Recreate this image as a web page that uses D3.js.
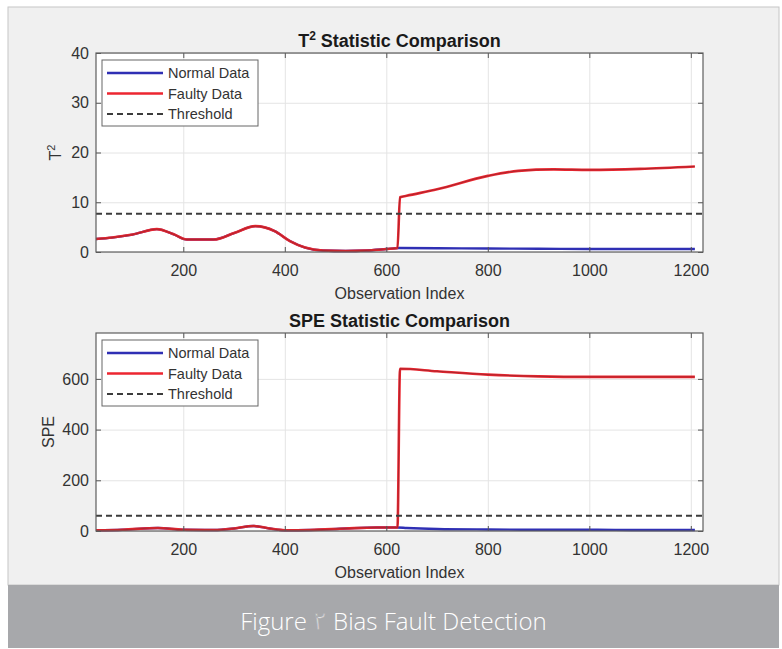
<!DOCTYPE html>
<html>
<head>
<meta charset="utf-8">
<script src="https://cdn.jsdelivr.net/npm/d3@7"></script>
<style>
  body { margin: 0; background: #fff; }
  svg { display: block; }
  text { font-family: "Liberation Sans", Arial, sans-serif; }
</style>
</head>
<body>
<svg id="fig" width="782" height="649"></svg>
<script>
// values (observation index, statistic)
const t2NormalIdx = [28, 60, 100, 148, 180, 207, 260, 300, 342, 380, 410, 440, 475, 520, 560, 600, 625, 700, 800, 900, 1000, 1100, 1208];
const t2Normal    = [2.6, 2.9, 3.5, 4.6, 3.6, 2.5, 2.5, 3.8, 5.2, 4.2, 2.2, 0.9, 0.3, 0.2, 0.3, 0.6, 0.8, 0.75, 0.7, 0.65, 0.6, 0.6, 0.6];
const t2FaultyIdx = [28, 60, 100, 148, 180, 207, 260, 300, 342, 380, 410, 440, 475, 520, 560, 600, 622, 627, 640, 700, 800, 860, 930, 1000, 1100, 1208];
const t2Faulty    = [2.6, 2.9, 3.5, 4.6, 3.6, 2.5, 2.5, 3.8, 5.2, 4.2, 2.2, 0.9, 0.3, 0.2, 0.3, 0.6, 0.8, 11.0, 11.3, 12.6, 15.3, 16.3, 16.6, 16.5, 16.7, 17.2];
const t2Threshold = 7.7;

const speNormalIdx = [28, 80, 150, 200, 260, 300, 338, 370, 400, 450, 520, 580, 622, 640, 700, 800, 900, 1000, 1100, 1208];
const speNormal    = [3, 5, 12, 5, 4, 10, 20, 10, 3, 4, 10, 14, 14, 12, 8, 6, 5, 5, 4, 4];
const speFaultyIdx = [28, 80, 150, 200, 260, 300, 338, 370, 400, 450, 520, 580, 622, 627, 700, 800, 900, 1000, 1100, 1208];
const speFaulty    = [3, 5, 12, 5, 4, 10, 20, 10, 3, 4, 10, 14, 14, 640, 630, 617, 610, 608, 608, 608];
const speThreshold = 60;

const xTicks   = [200, 400, 600, 800, 1000, 1200];
const t2Ticks  = [0, 10, 20, 30, 40];
const speTicks = [0, 200, 400, 600];
const legendLabels = ["Normal Data", "Faulty Data", "Threshold"];

const blue = "#2f2fb4", red = "#ec2630", dark = "#3c3c3c";
const bandColour = "#a7a8ab";
const fmt = d3.format("d");

const svg = d3.select("#fig");

// figure panel + caption band
svg.append("rect").attr("x", 8).attr("y", 7).attr("width", 771).attr("height", 578)
    .attr("fill", "#f0f0f0").attr("stroke", "#c6c6c6");
svg.append("rect").attr("x", 8).attr("y", 585).attr("width", 771).attr("height", 63)
    .attr("fill", bandColour);
const caption = svg.append("text")
    .attr("x", 393.5).attr("y", 630)
    .attr("text-anchor", "middle")
    .style("font-family", "'Open Sans', 'DejaVu Sans', sans-serif")
    .style("font-weight", 300)
    .style("font-size", "24px")
    .attr("fill", "#fff");
caption.append("tspan").text("Figure ");
// thin the fallback Arabic digit a little so it reads like the light caption face
caption.append("tspan")
    .style("font-family", "'Noto Sans Arabic', 'DejaVu Sans', sans-serif")
    .attr("stroke", bandColour)
    .attr("stroke-width", 0.6)
    .text("\u0662");
caption.append("tspan").text(" Bias Fault Detection");

function drawPanel(cfg) {
  const left = 96, right = 703;
  const w = right - left, h = cfg.bottom - cfg.top;
  const x = d3.scaleLinear().domain([28, 1224]).range([0, w]);
  const y = d3.scaleLinear().domain(cfg.yDomain).range([h, 0]);
  const g = svg.append("g").attr("transform", "translate(" + left + "," + cfg.top + ")");

  g.append("rect").attr("width", w).attr("height", h).attr("fill", "#fff");

  // grid
  g.append("g").attr("class", "grid")
      .call(d3.axisBottom(x).tickValues(xTicks).tickSize(h).tickFormat(""));
  g.append("g").attr("class", "grid")
      .call(d3.axisLeft(y).tickValues(cfg.yTicks).tickSize(-w).tickFormat(""));
  g.selectAll(".grid .domain").remove();
  g.selectAll(".grid line").attr("stroke", "#e4e4e4");

  // curves
  const line = d3.line()
      .x(d => x(d[0]))
      .y(d => y(d[1]))
      .curve(d3.curveMonotoneX);
  const normal = cfg.normalIdx.map((d, i) => [d, cfg.normal[i]]);
  const faulty = cfg.faultyIdx.map((d, i) => [d, cfg.faulty[i]]);

  g.append("path").attr("d", line(normal)).attr("fill", "none")
      .attr("stroke", blue).attr("stroke-width", 2.4);
  g.append("path").attr("d", line(faulty)).attr("fill", "none")
      .attr("stroke", red).attr("stroke-width", 2.6);
  g.append("path").attr("d", line(faulty)).attr("fill", "none")
      .attr("stroke", "#222").attr("stroke-width", 0.7).attr("opacity", 0.45);

  g.append("line")
      .attr("x1", 0).attr("x2", w)
      .attr("y1", y(cfg.threshold)).attr("y2", y(cfg.threshold))
      .attr("stroke", dark).attr("stroke-width", 2)
      .attr("stroke-dasharray", "6,4");

  // axes, ticks pointing inward on all four sides
  const xAxis = g.append("g").attr("transform", "translate(0," + h + ")")
      .call(d3.axisBottom(x).tickValues(xTicks).tickFormat(fmt)
        .tickSizeInner(-5).tickSizeOuter(0).tickPadding(13));
  const yAxis = g.append("g")
      .call(d3.axisLeft(y).tickValues(cfg.yTicks).tickFormat(fmt)
        .tickSizeInner(-5).tickSizeOuter(0).tickPadding(7));
  g.append("g")
      .call(d3.axisTop(x).tickValues(xTicks).tickSizeInner(-5).tickSizeOuter(0).tickFormat(""));
  g.append("g").attr("transform", "translate(" + w + ",0)")
      .call(d3.axisRight(y).tickValues(cfg.yTicks).tickSizeInner(-5).tickSizeOuter(0).tickFormat(""));
  g.selectAll(".domain").remove();
  g.selectAll(".tick line").filter(function() { return !this.parentNode.parentNode.classList.contains("grid"); })
      .attr("stroke", "#555");
  [xAxis, yAxis].forEach(a => a.selectAll("text")
      .style("font-size", "16px").attr("fill", "#333"));

  g.append("rect").attr("width", w).attr("height", h)
      .attr("fill", "none").attr("stroke", "#5e5e5e").attr("stroke-width", 1.2);

  // legend
  const lg = g.append("g").attr("transform", "translate(6,7)");
  lg.append("rect").attr("width", 156).attr("height", 66)
      .attr("fill", "#fff").attr("stroke", "#666");
  const items = lg.selectAll("g.item")
      .data(legendLabels)
      .enter()
      .append("g")
      .attr("class", "item")
      .attr("transform", (d, i) => "translate(0," + (13 + i * 20.5) + ")");
  items.append("line")
      .attr("x1", 5).attr("x2", 61)
      .attr("stroke", (d, i) => [blue, red, dark][i])
      .attr("stroke-width", (d, i) => i === 2 ? 2 : 2.6)
      .attr("stroke-dasharray", (d, i) => i === 2 ? "6,4" : null);
  items.append("text")
      .attr("x", 66).attr("y", 5)
      .style("font-size", "14.5px")
      .attr("fill", "#333")
      .text(d => d);

  // title and labels
  const title = g.append("text")
      .attr("x", w / 2).attr("y", -6)
      .attr("text-anchor", "middle")
      .style("font-size", "18px").style("font-weight", "bold")
      .attr("fill", "#1a1a1a");
  cfg.titleParts(title);

  g.append("text")
      .attr("x", w / 2).attr("y", h + 47)
      .attr("text-anchor", "middle")
      .style("font-size", "16px").attr("fill", "#333")
      .text("Observation Index");

  const yl = g.append("text")
      .attr("transform", "translate(" + cfg.yLabelX + "," + (h / 2) + ") rotate(-90)")
      .attr("text-anchor", "middle")
      .style("font-size", "16px").attr("fill", "#333");
  cfg.yLabelParts(yl);
}

drawPanel({
  top: 53, bottom: 252, yDomain: [0, 40], yTicks: t2Ticks,
  normalIdx: t2NormalIdx, normal: t2Normal,
  faultyIdx: t2FaultyIdx, faulty: t2Faulty,
  threshold: t2Threshold, yLabelX: -35,
  titleParts: t => {
    t.append("tspan").text("T");
    t.append("tspan").attr("dy", -7).style("font-size", "12px").text("2");
    t.append("tspan").attr("dy", 7).text(" Statistic Comparison");
  },
  yLabelParts: t => {
    t.append("tspan").text("T");
    t.append("tspan").attr("dy", -6).style("font-size", "11px").text("2");
  }
});

drawPanel({
  top: 333, bottom: 531, yDomain: [0, 781], yTicks: speTicks,
  normalIdx: speNormalIdx, normal: speNormal,
  faultyIdx: speFaultyIdx, faulty: speFaulty,
  threshold: speThreshold, yLabelX: -42,
  titleParts: t => t.text("SPE Statistic Comparison"),
  yLabelParts: t => t.text("SPE")
});
</script>
</body>
</html>
